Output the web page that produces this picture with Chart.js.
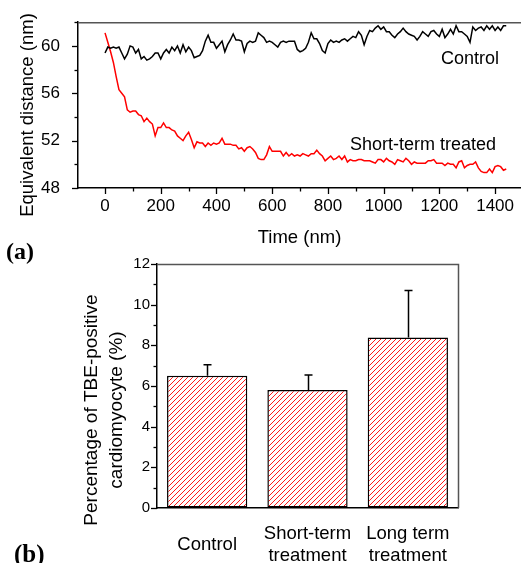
<!DOCTYPE html>
<html>
<head>
<meta charset="utf-8">
<script src="https://cdn.jsdelivr.net/npm/chart.js@4.4.1/dist/chart.umd.min.js"></script>
<style>
  html, body { margin: 0; padding: 0; background: #fff; }
  #wrap { position: relative; width: 521px; height: 563px; overflow: hidden; }
  .box { position: absolute; left: 0; width: 521px; }
  .lab { position: absolute; font-family: "Liberation Serif", "DejaVu Serif", serif; font-weight: bold; font-size: 24px; line-height: 1; color: #000; }
</style>
</head>
<body>
<div id="wrap">
  <div class="box" style="top:0;height:250px"><canvas id="ca"></canvas></div>
  <div class="box" style="top:250px;height:313px"><canvas id="cb"></canvas></div>
  <div class="lab" style="left:6px;top:239px">(a)</div>
  <div class="lab" style="left:14px;top:541px;font-size:25px">(b)</div>
</div>
<script>
// ---------- Panel (a) data ----------
const times = [];
for (let t = 0; t <= 1440; t += 10) times.push(t);

const controlValues = [
  59.4,59.9,59.8,59.9,59.8,59.9,59.4,58.9,59.3,60.0,
  59.9,59.4,59.7,58.9,59.1,58.8,58.9,59.1,59.4,59.4,
  58.9,59.4,59.7,59.4,59.9,59.6,60.0,59.4,60.1,59.5,
  59.9,59.6,59.0,59.1,59.2,59.6,60.4,60.9,60.3,60.3,
  59.8,60.1,60.4,59.5,60.1,60.5,61.0,60.5,60.5,60.4,
  59.5,60.2,60.4,60.3,60.4,61.1,60.9,60.7,60.3,60.4,
  60.3,60.1,59.9,60.3,60.4,60.3,60.4,60.4,60.4,59.7,
  59.5,59.6,59.8,60.3,61.1,60.6,60.6,60.2,59.6,59.4,
  60.2,60.5,60.3,60.4,60.3,60.5,60.6,60.4,60.6,60.8,
  60.7,61.2,60.9,60.1,60.8,61.3,61.2,61.5,61.7,61.4,
  61.6,61.2,61.2,60.9,60.7,61.0,61.2,61.5,61.2,61.0,
  60.9,60.8,60.5,60.8,61.2,61.0,60.8,61.2,61.3,61.0,
  60.8,61.4,60.7,61.0,61.4,61.0,61.7,61.2,61.2,61.0,
  60.8,60.3,61.6,61.3,61.5,61.6,61.3,61.7,61.4,61.7,
  61.3,61.6,61.3,61.7,61.7
];

const treatedValues = [
  61.1,60.3,59.5,58.6,57.4,56.3,56.0,55.7,54.6,54.4,
  54.5,54.5,54.2,54.1,53.6,53.9,53.6,53.4,52.4,53.1,
  53.1,53.5,53.1,53.1,52.9,52.8,52.4,52.2,52.0,52.4,
  52.7,52.1,51.4,51.9,51.8,51.8,51.5,51.8,51.6,51.8,
  51.7,51.8,52.2,51.7,51.7,51.7,51.6,51.6,51.3,51.4,
  51.1,51.4,51.5,51.3,51.0,50.5,50.4,50.4,50.8,51.5,
  51.1,51.1,51.1,51.1,50.7,51.0,50.7,50.9,50.7,50.8,
  50.7,50.9,50.8,50.7,50.9,50.9,51.2,50.9,50.7,50.3,
  50.5,50.7,50.4,50.5,50.7,50.4,50.7,50.2,50.4,50.3,
  50.3,50.4,50.4,50.3,50.3,50.3,50.2,50.1,50.4,50.4,
  50.2,50.5,50.3,50.2,50.0,50.4,50.3,50.2,50.5,50.3,
  50.0,50.2,50.1,50.1,50.1,50.1,50.3,50.3,50.4,50.1,
  50.1,50.1,49.9,50.1,50.0,50.0,49.7,50.2,50.3,49.7,
  49.9,50.0,50.0,50.2,49.7,49.4,49.3,49.3,49.6,49.3,
  49.8,49.9,49.8,49.5,49.6
];

const seriesNames = ["Control", "Short-term treated"];
const xTickValues = [0, 100, 200, 300, 400, 500, 600, 700, 800, 900, 1000, 1100, 1200, 1300, 1400];
const xTickLabels = [0, 200, 400, 600, 800, 1000, 1200, 1400];
const yTickValues = [48, 50, 52, 54, 56, 58, 60, 62];
const yTickLabels = [48, 52, 56, 60];

// ---------- Panel (b) data ----------
const barCategories = ["Control", ["Short-term", "treatment"], ["Long term", "treatment"]];
const barValues = [6.5, 5.8, 8.38];
const barErrors = [0.55, 0.74, 2.32];
const barTickValues = [0, 1, 2, 3, 4, 5, 6, 7, 8, 9, 10, 11, 12];
const barTickLabels = [0, 2, 4, 6, 8, 10, 12];

const FONT = "'Liberation Sans', Arial, sans-serif";
Chart.defaults.color = '#000';
Chart.defaults.font.family = FONT;

function tickPlugin(id, defs) {
  return {
    id,
    afterDraw(chart) {
      const ctx = chart.ctx;
      ctx.save();
      ctx.strokeStyle = '#000';
      ctx.lineWidth = 1.3;
      defs.forEach(d => {
        const sc = chart.scales[d.axis];
        d.values.forEach(v => {
          const len = d.major(v) ? 6 : 3.5;
          const p = Math.round(sc.getPixelForValue(v)) + 0.5;
          ctx.beginPath();
          if (d.axis === 'x') {
            ctx.moveTo(p, sc.top);
            ctx.lineTo(p, sc.top + len);
          } else {
            ctx.moveTo(sc.right, p);
            ctx.lineTo(sc.right - len, p);
          }
          ctx.stroke();
        });
      });
      ctx.restore();
    }
  };
}

function vTitle(id, lines, cx, cy, size, lineGap) {
  return {
    id,
    afterDraw(chart) {
      const ctx = chart.ctx;
      ctx.save();
      ctx.fillStyle = '#000';
      ctx.font = size + 'px ' + FONT;
      ctx.textAlign = 'center';
      ctx.textBaseline = 'middle';
      lines.forEach((t, i) => {
        ctx.save();
        ctx.translate(cx + i * lineGap, cy);
        ctx.rotate(-Math.PI / 2);
        ctx.fillText(t, 0, 0);
        ctx.restore();
      });
      ctx.restore();
    }
  };
}

const annotA = {
  id: 'annotA',
  afterDraw(chart) {
    const {ctx, scales: {x, y}, chartArea} = chart;
    ctx.save();
    ctx.strokeStyle = '#555';
    ctx.lineWidth = 1.5;
    ctx.beginPath();
    ctx.moveTo(chartArea.left, chartArea.top + 0.5);
    ctx.lineTo(chartArea.right, chartArea.top + 0.5);
    ctx.stroke();
    ctx.fillStyle = '#000';
    ctx.font = '18px ' + FONT;
    ctx.textAlign = 'center';
    ctx.textBaseline = 'middle';
    ctx.fillText(seriesNames[0], x.getPixelForValue(1310), y.getPixelForValue(58.85));
    ctx.fillText(seriesNames[1], x.getPixelForValue(1141), y.getPixelForValue(51.65));
    ctx.restore();
  }
};

new Chart(document.getElementById('ca'), {
  type: 'line',
  data: {
    datasets: [
      { label: seriesNames[0], data: times.map((t, i) => ({x: t, y: controlValues[i]})),
        borderColor: '#000', borderWidth: 1.5, pointRadius: 0, tension: 0, fill: false },
      { label: seriesNames[1], data: times.map((t, i) => ({x: t, y: treatedValues[i]})),
        borderColor: '#ff0000', borderWidth: 1.5, pointRadius: 0, tension: 0, fill: false }
    ]
  },
  options: {
    responsive: true, maintainAspectRatio: false, animation: false, devicePixelRatio: 1,
    layout: { padding: { top: 22, right: 0, left: 0, bottom: 0 } },
    plugins: { legend: { display: false }, tooltip: { enabled: false } },
    scales: {
      x: {
        type: 'linear', min: -97, max: 1493,
        afterBuildTicks: s => { s.ticks = xTickValues.map(v => ({ value: v })); },
        afterFit: s => { s.height = 62; },
        ticks: { autoSkip: false, maxRotation: 0, minRotation: 0,
          padding: 2, font: { size: 17 },
          callback: v => xTickLabels.includes(v) ? String(v) : '' },
        grid: { drawOnChartArea: false, color: 'rgba(0,0,0,0)', tickLength: 6 },
        border: { color: '#000', width: 1.5 },
        title: { display: true, text: 'Time (nm)', font: { size: 18.5 }, padding: { top: 0, bottom: 1 } }
      },
      y: {
        min: 48, max: 62,
        afterBuildTicks: s => { s.ticks = yTickValues.map(v => ({ value: v })); },
        afterFit: s => { s.width = 78; },
        ticks: { padding: 12, font: { size: 17 },
          callback: v => yTickLabels.includes(v) ? String(v) : '' },
        grid: { drawOnChartArea: false, color: 'rgba(0,0,0,0)', tickLength: 6 },
        border: { color: '#000', width: 1.5 },
        title: { display: false }
      }
    }
  },
  plugins: [annotA, vTitle('ytA', ['Equivalent distance (nm)'], 28, 115, 18.5, 0), tickPlugin('ticksA', [
    { axis: 'x', values: xTickValues, major: v => xTickLabels.includes(v) },
    { axis: 'y', values: yTickValues, major: v => yTickLabels.includes(v) }
  ])]
});

function hatchPattern() {
  const c = document.createElement('canvas');
  c.width = 5; c.height = 5;
  const p = c.getContext('2d');
  p.fillStyle = '#fff';
  p.fillRect(0, 0, 5, 5);
  p.strokeStyle = '#ff1a1a';
  p.lineWidth = 1;
  p.beginPath();
  p.moveTo(-1, 6); p.lineTo(6, -1);
  p.moveTo(-1, 1); p.lineTo(1, -1);
  p.moveTo(4, 6); p.lineTo(6, 4);
  p.stroke();
  return p.createPattern(c, 'repeat');
}

const frameAndErrors = {
  id: 'frameB',
  afterDatasetsDraw(chart) {
    const {ctx, chartArea, scales: {y}} = chart;
    const meta = chart.getDatasetMeta(0);
    ctx.save();
    ctx.strokeStyle = '#000';
    ctx.lineWidth = 1.5;
    meta.data.forEach((el, i) => {
      const x = Math.round(el.x) + 0.5;
      const yTop = y.getPixelForValue(barValues[i] + barErrors[i]);
      ctx.beginPath();
      ctx.moveTo(x, el.y);
      ctx.lineTo(x, yTop);
      ctx.moveTo(x - 4, yTop);
      ctx.lineTo(x + 4, yTop);
      ctx.stroke();
    });
    ctx.strokeStyle = '#555';
    ctx.beginPath();
    ctx.moveTo(chartArea.left, chartArea.top + 0.5);
    ctx.lineTo(chartArea.right + 0.5, chartArea.top + 0.5);
    ctx.lineTo(chartArea.right + 0.5, chartArea.bottom);
    ctx.stroke();
    ctx.restore();
  }
};

new Chart(document.getElementById('cb'), {
  type: 'bar',
  data: {
    labels: barCategories,
    datasets: [{
      data: barValues,
      backgroundColor: hatchPattern(),
      borderColor: '#000',
      borderWidth: 1.5,
      borderSkipped: false,
      barPercentage: 0.8,
      categoryPercentage: 1.0
    }]
  },
  options: {
    responsive: true, maintainAspectRatio: false, animation: false, devicePixelRatio: 1,
    layout: { padding: { top: 14, right: 63, left: 0, bottom: 0 } },
    plugins: { legend: { display: false }, tooltip: { enabled: false } },
    scales: {
      x: {
        afterFit: s => { s.height = 55; },
        ticks: { padding: 26, font: { size: 18.5, lineHeight: 1.2 }, maxRotation: 0, autoSkip: false, crossAlign: 'center' },
        grid: { display: false, drawTicks: false },
        border: { color: '#000', width: 1.5 }
      },
      y: {
        min: 0, max: 12,
        afterBuildTicks: s => { s.ticks = barTickValues.map(v => ({ value: v })); },
        afterFit: s => { s.width = 157; },
        ticks: { padding: 1, font: { size: 15 },
          callback: v => barTickLabels.includes(v) ? String(v) : '' },
        grid: { drawOnChartArea: false, color: 'rgba(0,0,0,0)', tickLength: 6 },
        border: { color: '#000', width: 1.5 },
        title: { display: false }
      }
    }
  },
  plugins: [frameAndErrors,
    vTitle('ytB', ['Percentage of TBE-positive', 'cardiomyocyte (%)'], 92, 160, 19, 25),
    tickPlugin('ticksB', [{ axis: 'y', values: barTickValues, major: v => barTickLabels.includes(v) }])]
});
</script>
</body>
</html>
